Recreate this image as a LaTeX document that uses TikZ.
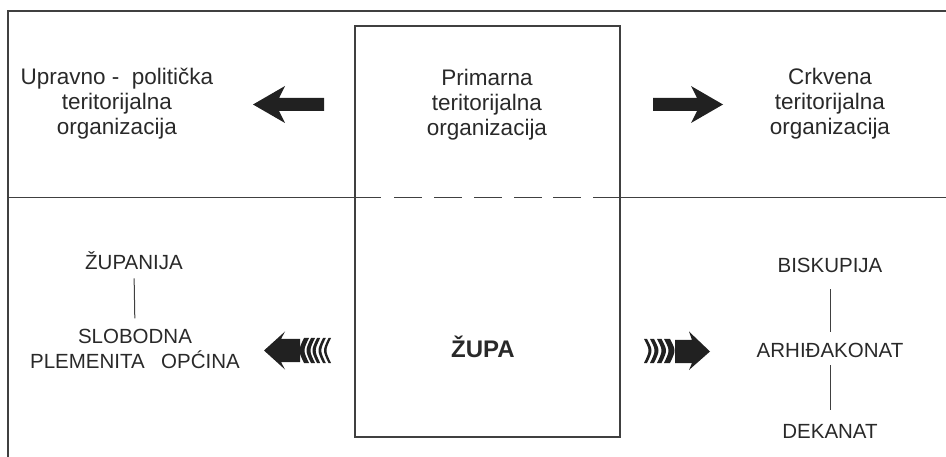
\documentclass[tikz,border=0pt]{standalone}
\usepackage{fontspec}
\setmainfont{Liberation Sans}
\definecolor{txt}{gray}{0.16}
\definecolor{lin}{gray}{0.25}
\definecolor{arrc}{gray}{0.13}
\begin{document}
\begin{tikzpicture}[x=1pt,y=-1pt,
  lbl/.style={inner sep=0pt, text=txt, font=\fontsize{22.5}{25}\selectfont, align=center, anchor=base},
  caps/.style={inner sep=0pt, text=txt, font=\fontsize{20.5}{25}\selectfont, align=center, anchor=base},
  ln/.style={draw=lin, line width=1pt},
  frame/.style={draw=lin, line width=2pt},
  arr/.style={fill=arrc, draw=none}]
\useasboundingbox (0,0) rectangle (946,457);
% frame
\draw[frame] (8,457) -- (8,11.5) -- (946,11.5);
% central box
\node[draw=lin, line width=1.3pt, minimum width=265pt, minimum height=411pt, inner sep=0pt] (box) at (487.5,231.5) {};
% divider
\draw[ln, line width=1.2pt] (8,197.5) -- (381,197.5);
\foreach \s in {394,434,474,514,553} \draw[ln, line width=1.2pt] (\s,197.5) -- ++(27.5,0);
\draw[ln, line width=1.2pt] (593,197.5) -- (946,197.5);
% top texts (base anchor = last line)
\node[lbl] (upr) at (117,135) {Upravno -\ \ politička\\teritorijalna\\organizacija};
\node[lbl] (prim) at (487,135.5) {Primarna\\teritorijalna\\organizacija};
\node[lbl] (crk) at (830,135) {Crkvena\\teritorijalna\\organizacija};
% top arrows
\fill[arr] (253,104.5) -- (285,86) -- (279,98) -- (324,98) -- (324,111) -- (279,111) -- (285,123) -- cycle;
\fill[arr] (653,98) -- (697,98) -- (691,86) -- (723,104.5) -- (691,123) -- (697,111) -- (653,111) -- cycle;
% bottom texts
\node[caps] (zup) at (134,270) {ŽUPANIJA};
\node[caps] (slob) at (135,369) {SLOBODNA\\PLEMENITA\hspace{0.8em}OPĆINA};
\draw[ln, shorten <=8pt, shorten >=11pt] (zup.south) -- (slob.north);
\node[caps] (bis) at (830,273) {BISKUPIJA};
\node[caps] (arh) at (830,357) {ARHIĐAKONAT};
\node[caps] (dek) at (830,438) {DEKANAT};
\draw[ln, shorten <=16pt, shorten >=10.7pt] (bis.south) -- (arh.north);
\draw[ln, shorten <=8pt, shorten >=14pt] (arh.south) -- (dek.north);
\node[inner sep=0pt, anchor=base, text=txt, font=\bfseries\fontsize{24}{24}\selectfont] (zupa) at (483,358) {ŽUPA};
% bottom left striped arrow
\fill[arr] (264,350.5) -- (285,331.5) -- (281,339) -- (300,339) -- (300,362) -- (281,362) -- (285,369.5) -- cycle;
\foreach \a/\w in {301/5,308/4,314/3.2,320/2.8,325.5/2.5}
  \fill[arr] (\a+3,338) .. controls (\a-3,350.5) .. (\a+3,363) -- (\a+3+\w,363) .. controls (\a-3+\w,350.5) .. (\a+3+\w,338) -- cycle;
% bottom right striped arrow
\fill[arr] (675,340) -- (692,340) -- (689,331.5) -- (710,351.5) -- (689,370) -- (692,363) -- (675,363) -- cycle;
\foreach \a/\w in {647/3,653/4,660/4.5,667/6}
  \fill[arr] (\a-3,339) .. controls (\a+3,350.5) .. (\a-3,363) -- (\a-3+\w,363) .. controls (\a+3+\w,350.5) .. (\a-3+\w,339) -- cycle;
\end{tikzpicture}
\end{document}
